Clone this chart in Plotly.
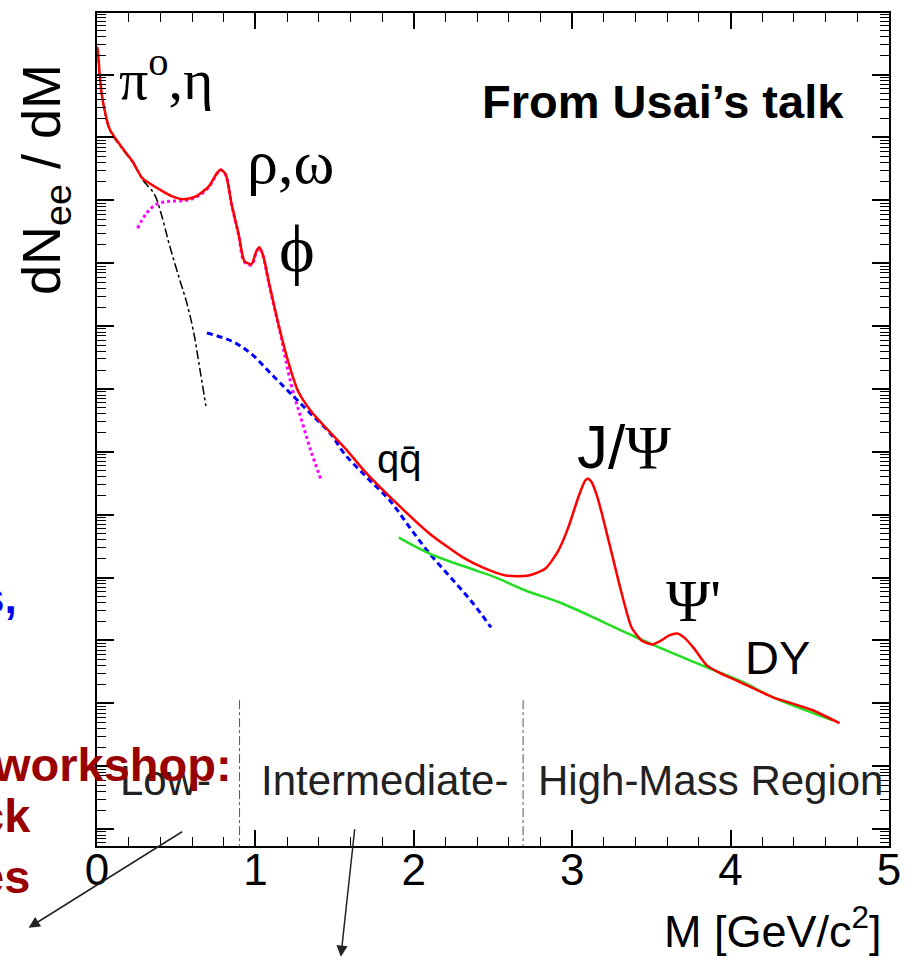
import plotly.graph_objects as go

# ---------------- data ----------------
# total dilepton spectrum (red)
total_mass = [0, 0.006, 0.019, 0.0375, 0.081, 0.1625, 0.225, 0.2875, 0.394, 0.475, 0.55, 0.625,
              0.706, 0.756, 0.781, 0.8125, 0.85, 0.894, 0.931, 0.975, 1.006, 1.025, 1.05, 1.081,
              1.119, 1.156, 1.206, 1.269, 1.35, 1.475, 1.581, 1.6875, 1.894, 2.1, 2.3125, 2.4375,
              2.581, 2.725, 2.831, 2.9125, 2.975, 3.0375, 3.081, 3.1, 3.125, 3.156, 3.1875, 3.25,
              3.3125, 3.375, 3.4375, 3.506, 3.5625, 3.6125, 3.6625, 3.706, 3.769, 3.85, 3.9375,
              4.0625, 4.269, 4.519, 4.6875]
total_log10 = [4.444, 4.365, 3.937, 3.571, 3.127, 2.825, 2.619, 2.349, 2.175, 2.063, 2.016, 2.063,
               2.222, 2.429, 2.492, 2.413, 1.937, 1.460, 1.032, 0.984, 1.190, 1.254, 1.111, 0.746,
               0.317, -0.079, -0.556, -1.032, -1.349, -1.698, -1.984, -2.302, -2.825, -3.302,
               -3.683, -3.841, -3.968, -3.968, -3.857, -3.571, -3.206, -2.730, -2.460, -2.429,
               -2.492, -2.698, -2.984, -3.619, -4.254, -4.794, -5.0, -5.063, -5.0, -4.921, -4.889,
               -4.952, -5.127, -5.397, -5.524, -5.667, -5.905, -6.111, -6.317]

# pi0, eta Dalitz (black dash-dot)
dalitz_mass = [0, 0.019, 0.0375, 0.081, 0.1625, 0.225, 0.2875, 0.3625, 0.406, 0.456, 0.519,
               0.569, 0.6125, 0.644, 0.6875]
dalitz_log10 = [4.43, 3.92, 3.56, 3.11, 2.81, 2.60, 2.33, 2.095, 1.778, 1.302, 0.762, 0.349,
                -0.127, -0.603, -1.270]

# rho, omega, phi (magenta dotted)
vector_mass = [0.256, 0.3125, 0.375, 0.456, 0.5625, 0.625, 0.706, 0.756, 0.781, 0.8125, 0.85,
               0.894, 0.931, 0.975, 1.006, 1.025, 1.05, 1.081, 1.119, 1.156, 1.225, 1.2875,
               1.35, 1.4125]
vector_log10 = [1.556, 1.794, 1.937, 1.984, 2.00, 2.05, 2.21, 2.42, 2.48, 2.40, 1.93, 1.45, 1.02,
                0.97, 1.18, 1.24, 1.10, 0.73, 0.30, -0.10, -0.921, -1.460, -1.984, -2.429]

# q qbar / open charm (blue dashed)
qq_mass = [0.694, 0.85, 0.975, 1.1, 1.225, 1.35, 1.475, 1.5625, 1.706, 1.85, 1.975, 2.1, 2.25,
           2.375, 2.4875]
qq_log10 = [-0.111, -0.238, -0.444, -0.762, -1.079, -1.397, -1.714, -2.032, -2.413, -2.778,
            -3.206, -3.619, -4.048, -4.413, -4.794]

# Drell-Yan (green)
dy_mass = [1.906, 2.1, 2.394, 2.519, 2.706, 2.9375, 3.35, 3.519, 3.85, 4.081, 4.269, 4.644]
dy_log10 = [-3.365, -3.619, -3.889, -4.0, -4.206, -4.413, -4.889, -5.079, -5.429, -5.667,
            -5.905, -6.270]

# region boundaries
boundary_mass = [0.9, 2.69]
boundary_top_log10 = -5.95
axis_bottom_log10 = -8.27
axis_top_log10 = 4.98

x_ticks = [0, 1, 2, 3, 4, 5]
region_labels = ["Low-", "Intermediate-", "High-Mass Region"]

# ---------------- figure ----------------
W, H = 912, 960
L, R, T, B = 97, 16, 11, 114
PW, PH = W - L - R, H - T - B


def pp(xp, yp):
    return (xp - L) / PW, (H - B - yp) / PH


def lin(v):
    return [10 ** a for a in v]


SANS = "Liberation Sans, Arial, sans-serif"
SERIF = "Liberation Serif, Times New Roman, serif"

fig = go.Figure()
fig.add_trace(go.Scatter(x=dalitz_mass, y=lin(dalitz_log10), mode="lines",
                         line=dict(color="black", width=1.5, dash="dashdot", shape="spline")))
fig.add_trace(go.Scatter(x=vector_mass, y=lin(vector_log10), mode="lines",
                         line=dict(color="#ff00ff", width=3, dash="dot", shape="spline")))
fig.add_trace(go.Scatter(x=qq_mass, y=lin(qq_log10), mode="lines",
                         line=dict(color="#0000ff", width=3, dash="6px,4px", shape="spline")))
fig.add_trace(go.Scatter(x=dy_mass, y=lin(dy_log10), mode="lines",
                         line=dict(color="#22dd22", width=2.5, shape="spline")))
fig.add_trace(go.Scatter(x=total_mass, y=lin(total_log10), mode="lines",
                         line=dict(color="#ff0000", width=2.5, shape="spline", smoothing=0.6)))
for bm in boundary_mass:
    fig.add_trace(go.Scatter(x=[bm, bm], y=[10 ** boundary_top_log10, 10 ** axis_bottom_log10],
                             mode="lines", line=dict(color="#555555", width=1, dash="dashdot")))

ann = []


def text(xp, yp, s, size, family=SANS, color="black", xanchor="center", angle=0, align="center"):
    x, y = pp(xp, yp)
    ann.append(dict(x=x, y=y, xref="paper", yref="paper", text=s, showarrow=False,
                    xanchor=xanchor, yanchor="middle", textangle=angle, align=align,
                    font=dict(family=family, size=size, color=color)))


text(167, 74, "π<sup>o</sup>,η", 58, SERIF)
text(292, 160, "ρ,ω", 62, SERIF)
text(299, 248, "ϕ", 68, SERIF)
text(402, 458, "qq\u0304", 40)
text(629, 446, "J/<span style='font-family:Liberation Serif'>Ψ</span>", 62)
text(699, 600, "Ψ'", 60, SERIF)
text(784, 657, "DY", 47)
text(668, 100, "<b>From Usai’s talk</b>", 47)
text(166, 780, region_labels[0], 42, color="#222222")
text(387, 780, region_labels[1], 42, color="#222222")
text(716, 780, region_labels[2], 42, color="#222222")
text(891, 928, "M [GeV/c<sup>2</sup>]", 45, xanchor="right")
text(44, 178, "dN<sub>ee</sub>\u00a0/\u00a0dM", 54, angle=-90)
# cut-off slide text on the left
text(18, 597, "<b>s,</b>", 44, color="#0000ee", xanchor="right")
text(235, 764, "<b>workshop:</b>", 47, color="#990000", xanchor="right")
text(32, 846, "<b>ck<br>es</b>", 47, color="#990000", xanchor="right", align="right")

# arrows
for tip, tail in [((28, 928), (183, 831)), ((343, 957), (357, 828))]:
    x, y = pp(*tip)
    ann.append(dict(x=x, y=y, xref="paper", yref="paper", text="", showarrow=True,
                    ax=tail[0] - tip[0], ay=tail[1] - tip[1], arrowhead=2, arrowsize=1.5,
                    arrowwidth=1.5, arrowcolor="#222222"))

fig.update_layout(
    width=W, height=H, margin=dict(l=L, r=R, t=T, b=B, pad=0),
    paper_bgcolor="white", plot_bgcolor="white", showlegend=False,
    annotations=ann,
    xaxis=dict(range=[0, 5], tickvals=x_ticks, ticktext=[str(v) for v in x_ticks],
               ticks="inside", ticklen=16, tickwidth=1.5, tickcolor="black",
               showline=True, linecolor="black", linewidth=2, mirror="ticks",
               showgrid=False, zeroline=False, ticklabelstandoff=-16,
               tickfont=dict(family=SANS, size=44, color="black"),
               minor=dict(ticks="inside", ticklen=9, tickwidth=1.2, dtick=0.2,
                          tickcolor="black", showgrid=False)),
    yaxis=dict(type="log", range=[axis_bottom_log10, axis_top_log10], dtick=1,
               ticks="inside", ticklen=17, tickwidth=1.5, tickcolor="black",
               showticklabels=False, showline=True, linecolor="black", linewidth=2,
               mirror="ticks", showgrid=False, zeroline=False,
               minor=dict(ticks="inside", ticklen=9, tickwidth=1.2, dtick="D1",
                          tickcolor="black", showgrid=False)),
)

fig.write_html("out.html")
